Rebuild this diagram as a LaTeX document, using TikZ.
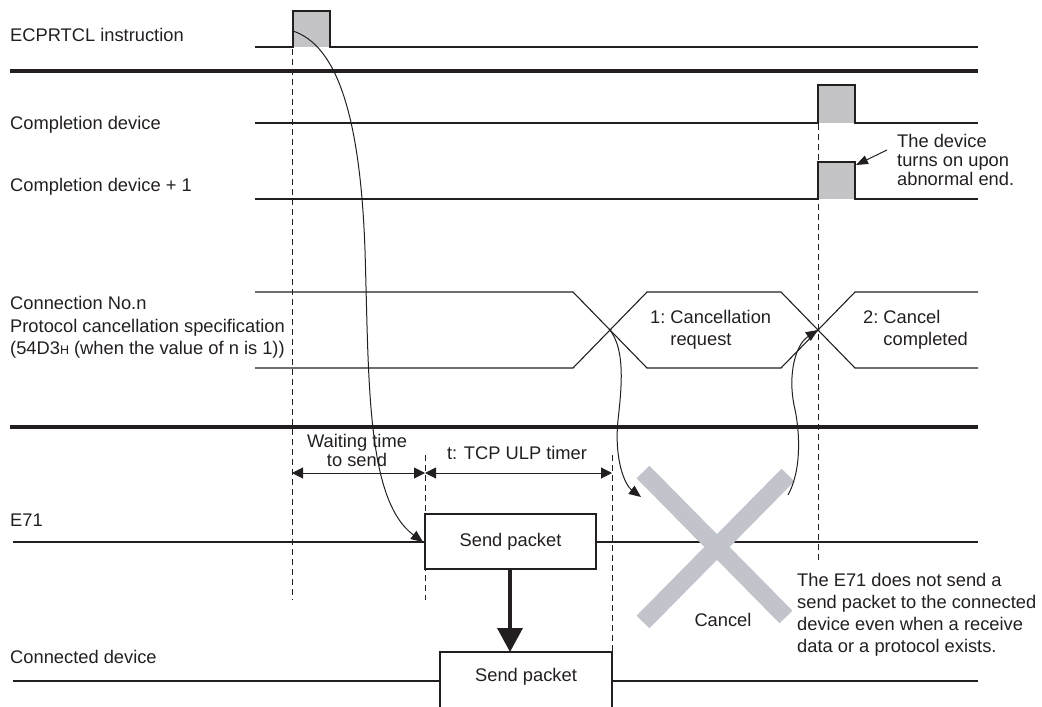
\documentclass[tikz,border=0pt]{standalone}
\usepackage{fontspec}
\setmainfont{Liberation Sans}
\usetikzlibrary{arrows.meta}
\definecolor{ink}{HTML}{231F20}
\definecolor{pulsegray}{HTML}{C4C4C6}
\definecolor{xgray}{HTML}{C1C4CB}
\begin{document}
\begin{tikzpicture}[x=1pt,y=-1pt,
  font=\fontsize{18.3pt}{21pt}\selectfont,
  lbl/.style={anchor=west, inner sep=0pt, text=ink},
  ctr/.style={inner sep=0pt, text=ink, align=center},
  sig/.style={draw=ink, line width=1.1pt, line join=miter},
  sepline/.style={draw=ink, line width=3.2pt},
  busline/.style={draw=ink, line width=2.4pt},
  guide/.style={draw=ink, line width=1pt, dash pattern=on 6pt off 4pt},
  pulsefill/.style={fill=pulsegray},
  curvearrow/.style={draw=ink, line width=1pt, -{Triangle[length=12pt,width=10pt]}},
  dimarrow/.style={draw=ink, line width=1pt, {Triangle[length=11pt,width=11pt]}-{Triangle[length=11pt,width=11pt]}},
  packet/.style={draw=ink, fill=white, line width=1.1pt, inner sep=0pt, text=ink},
  bigx/.style={draw=xgray, line width=18pt}]
\useasboundingbox (0,0) rectangle (1042,707);

% ---------- labels ----------
\node[lbl] (lECP) at (10,35) {ECPRTCL instruction};
\node[lbl] (lCD) at (10,125) {Completion device};
\node[lbl] (lCD1) at (10,187) {Completion device + 1};
\node[lbl, align=left, font=\fontsize{18.3pt}{22.5pt}\selectfont] (lConn) at (10,327.5)
  {Connection No.n\\Protocol cancellation specification\\(54D3{\fontsize{12.5pt}{12.5pt}\selectfont H} (when the value of n is 1))};
\node[lbl] (lE71) at (10,520) {E71};
\node[lbl] (lConDev) at (10,657) {Connected device};

% ---------- pulses ----------
\fill[pulsefill] (293,11) rectangle (330,47);
\fill[pulsefill] (818,85) rectangle (855,123);
\fill[pulsefill] (818,162) rectangle (855,199);

% ---------- signal lines ----------
\draw[sig] (255,47) -- (293,47) -- (293,11) -- (330,11) -- (330,47) -- (978,47);
\draw[sig] (255,123) -- (818,123) -- (818,85) -- (855,85) -- (855,123) -- (978,123);
\draw[sig] (255,199) -- (818,199) -- (818,162) -- (855,162) -- (855,199) -- (978,199);

% separators
\draw[sepline] (10,71) -- (978,71);
\draw[sepline] (10,427) -- (978,427);

% bus
\draw[sig] (255,292) -- (573,292) -- (647,368) -- (781,368) -- (855,292) -- (978,292);
\draw[sig] (255,368) -- (573,368) -- (647,292) -- (781,292) -- (855,368) -- (978,368);
\coordinate (crossA) at (610,330);
\coordinate (crossB) at (818,330);

\node[lbl] (req) at (650,330.5) {\begin{tabular}{@{}l@{}l@{}}1:\hspace{5pt} & Cancellation\\[1.5pt] & request\end{tabular}};
\node[lbl] (cmp) at (863,330.5) {\begin{tabular}{@{}l@{}l@{}}2:\hspace{5pt} & Cancel\\[1.5pt] & completed\end{tabular}};

% guides
\draw[guide] (292,49) -- (292,600);
\draw[guide] (425,455) -- (425,600);
\draw[guide] (612,455) -- (612,652);
\draw[guide] (818,124) -- (818,560);

% annotation top right
\node[lbl, align=left, font=\fontsize{18.3pt}{19pt}\selectfont] (note1) at (897,160)
  {The device\\turns on upon\\abnormal end.};
\coordinate (note1tail) at (887,150);
\coordinate (pulseTip) at (856,165);
\draw[draw=ink, line width=1pt, -{Triangle[length=12pt,width=9pt]}] (note1tail) -- (pulseTip);

% ---------- bottom section ----------
\node[ctr, font=\fontsize{18.3pt}{19pt}\selectfont] (wait) at (357,450) {Waiting time\\to send};
\node[ctr] (tcp) at (517,453) {t: TCP ULP timer};
\coordinate (d1) at (292,473);
\coordinate (d2) at (425,473);
\coordinate (d3) at (612,473);
\draw[dimarrow] (d1) -- (d2);
\draw[dimarrow] (d2) -- (d3);

% E71 line and box
\draw[busline] (13,542) -- (978,542);
\draw[busline] (13,681) -- (978,681);
\node[packet, minimum width=171pt, minimum height=55pt] (sp1) at (510.5,541.5) {Send packet};
\node[packet, minimum width=172pt, minimum height=60pt] (sp2) at (526,682) {};
\node[text=ink, inner sep=0pt] (sp2t) at (526,677) {Send packet};

% thick arrow
\draw[draw=ink, line width=3.5pt, -{Triangle[length=24pt,width=25pt]}] (sp1.south -| 510,0) -- (510,652);

% big X
\draw[bigx] (643,472) -- (786,617);
\draw[bigx] (788,475) -- (643,622);
\node[text=ink, inner sep=0pt] (cancel) at (723,620) {Cancel};

\node[lbl, align=left, font=\fontsize{18.3pt}{22pt}\selectfont] (note2) at (797,615)
  {The E71 does not send a\\send packet to the connected\\device even when a receive\\data or a protocol exists.};

% ---------- curved arrows ----------
\coordinate (ecpStart) at (293,31);
\coordinate (sp1In) at (423,542);
\draw[curvearrow] (ecpStart) .. controls (335,45) and (360,110) .. (365,250)
  .. controls (369,380) and (366,500) .. (sp1In);

\coordinate (xIn) at (641,497);
\draw[curvearrow] (crossA) .. controls (625,350) and (622,385) .. (618,420)
  .. controls (614,460) and (625,485) .. (xIn);

\coordinate (xOut) at (788,495);
\draw[curvearrow] (xOut) .. controls (802,470) and (800,430) .. (794,405)
  .. controls (788,375) and (795,345) .. (crossB);

\end{tikzpicture}
\end{document}
